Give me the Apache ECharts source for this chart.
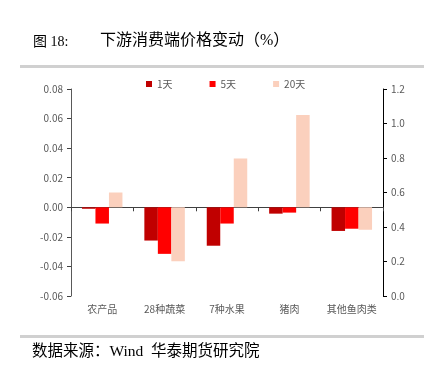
<!DOCTYPE html>
<html>
<head>
<meta charset="utf-8">
<script src="https://cdn.jsdelivr.net/npm/echarts@6/dist/echarts.min.js"></script>
<style>
  html, body { margin: 0; padding: 0; background: #fff; }
  #chart { width: 424px; height: 367px; }
</style>
</head>
<body>
<div id="chart"></div>
<script>
const categories = ["农产品", "28种蔬菜", "7种水果", "猪肉", "其他鱼肉类"];
const oneDay = [-0.001, -0.0225, -0.026, -0.0043, -0.016];
const fiveDay = [-0.011, -0.0315, -0.011, -0.0036, -0.0145];
const twentyDay = [0.010, -0.0365, 0.033, 0.0625, -0.0152];
const seriesNames = ["1天", "5天", "20天"];
const seriesColors = ["#c00000", "#ff0000", "#fbd0bd"];

const serifFont = '"Liberation Serif", "Noto Sans CJK SC", serif';
const sansFont = '"Noto Sans CJK SC", "Liberation Sans", sans-serif';

const chart = echarts.init(document.getElementById("chart"), null, { renderer: "canvas" });

const seriesData = [oneDay, fiveDay, twentyDay];

chart.setOption({
  animation: false,
  backgroundColor: "#ffffff",
  graphic: [
    {
      type: "text", left: 33, top: 35,
      style: { text: "图 18:", font: "14px " + serifFont, fill: "#000" }
    },
    {
      type: "text", left: 100, top: 33,
      style: { text: "下游消费端价格变动（%）", font: "16px " + serifFont, fill: "#000" }
    },
    {
      type: "rect", shape: { x: 20, y: 65, width: 404, height: 3 },
      style: { fill: "#d0d0d0" }
    },
    {
      type: "rect", shape: { x: 20, y: 335, width: 404, height: 3 },
      style: { fill: "#d0d0d0" }
    },
    {
      type: "text", left: 32, top: 344,
      style: { text: "数据来源：Wind  华泰期货研究院", font: "15.5px " + serifFont, fill: "#000" }
    }
  ],
  legend: {
    top: 74,
    left: 141,
    itemWidth: 6,
    itemHeight: 6,
    itemGap: 37,
    icon: "rect",
    textStyle: { color: "#595959", fontSize: 10, fontFamily: sansFont },
    data: seriesNames
  },
  grid: { left: 71, right: 41, top: 89, bottom: 71 },
  xAxis: [
    {
      type: "category",
      data: categories,
      position: "bottom",
      axisLine: { show: false, onZero: false },
      axisTick: { show: false },
      axisLabel: { color: "#595959", fontSize: 10, fontFamily: sansFont, margin: 8, interval: 0 }
    },
    {
      type: "category",
      data: categories,
      position: "bottom",
      axisLine: { show: true, onZero: true, onZeroAxisIndex: 0, lineStyle: { color: "#404040", width: 1 } },
      axisTick: { show: true, length: 4, interval: 0, lineStyle: { color: "#404040" } },
      axisLabel: { show: false }
    }
  ],
  yAxis: [
    {
      type: "value",
      min: -0.06,
      max: 0.08,
      interval: 0.02,
      splitLine: { show: false },
      axisLine: { show: true, lineStyle: { color: "#595959", width: 1 } },
      axisTick: { show: true, length: 4, lineStyle: { color: "#404040" } },
      axisLabel: {
        color: "#595959", fontSize: 10, fontFamily: sansFont, margin: 8,
        formatter: v => v.toFixed(2)
      }
    },
    {
      type: "value",
      min: 0,
      max: 1.2,
      interval: 0.2,
      position: "right",
      splitLine: { show: false },
      axisLine: { show: true, lineStyle: { color: "#000", width: 1 } },
      axisTick: { show: true, length: 4, lineStyle: { color: "#000" } },
      axisLabel: {
        color: "#595959", fontSize: 10, fontFamily: sansFont, margin: 8,
        formatter: v => v.toFixed(1)
      }
    }
  ],
  series: seriesNames.map((name, i) => ({
    name: name,
    type: "bar",
    xAxisIndex: 0,
    yAxisIndex: 0,
    data: seriesData[i],
    barWidth: 13.5,
    barGap: "0%",
    itemStyle: { color: seriesColors[i] }
  }))
});
</script>
</body>
</html>
